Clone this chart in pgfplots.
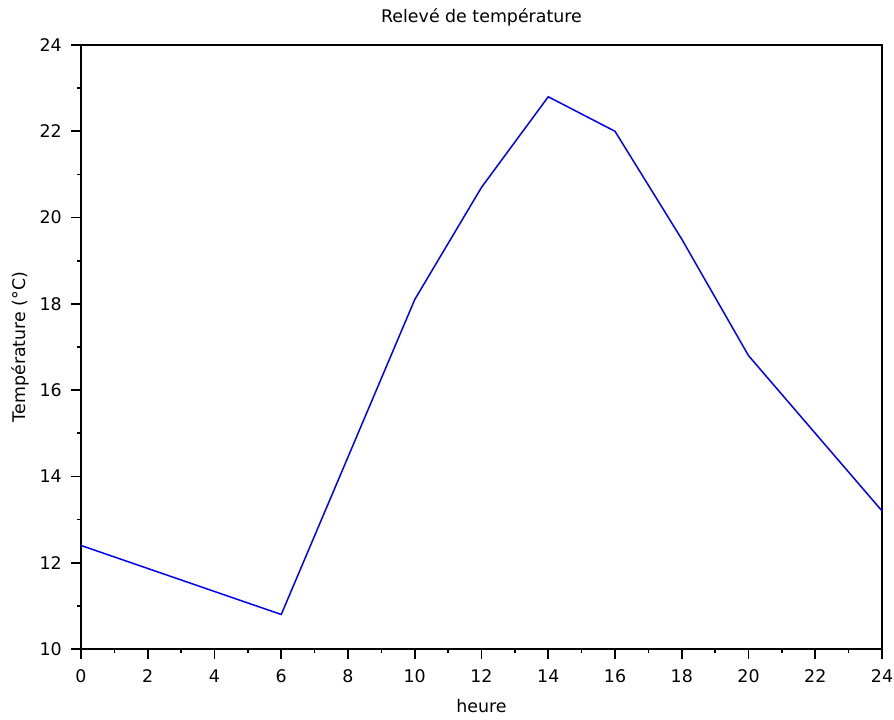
\documentclass[border=0pt]{standalone}
\usepackage{fontspec}
\setmainfont{DejaVu Sans}
\usepackage{pgfplots}
\pgfplotsset{compat=1.18}
\begin{document}
\begin{tikzpicture}
\begin{axis}[
  scale only axis,
  width=801pt, height=604pt,
  xmin=0, xmax=24, ymin=10, ymax=24,
  xtick={0,2,...,24}, ytick={10,12,...,24},
  minor tick num=1,
  tick align=outside,
  xtick pos=bottom, ytick pos=left,
  major tick length=10pt, minor tick length=4pt,
  every tick/.style={black, line width=1.6pt},
  axis line style={black, line width=1.8pt},
  /pgf/number format/assume math mode=true,
  font=\fontsize{17.4}{21}\selectfont,
  xticklabel style={anchor=center, inner sep=0pt, yshift=-17.5pt},
  yticklabel style={anchor=east, inner sep=0pt, xshift=-9pt},
  title={Relevé de température},
  title style={at={(axis description cs:0.5,1.035)}, anchor=center, inner sep=0pt, yshift=0pt},
  xlabel={heure},
  xlabel style={at={(axis description cs:0.5,-0.094)}, anchor=center, inner sep=0pt},
  ylabel={Température (°C)},
  ylabel style={at={(axis description cs:-0.0762,0.5)}, anchor=center, rotate=0, inner sep=0pt},
]
\addplot[blue, line width=1.5pt, mark=none] coordinates {
 (0,12.4) (6,10.8) (10,18.1) (12,20.7) (14,22.8) (16,22.0) (18,19.5) (20,16.8) (24,13.2)
};
\end{axis}
\path[use as bounding box] (-81pt,-71pt) rectangle (813pt,649pt);
\end{tikzpicture}
\end{document}
